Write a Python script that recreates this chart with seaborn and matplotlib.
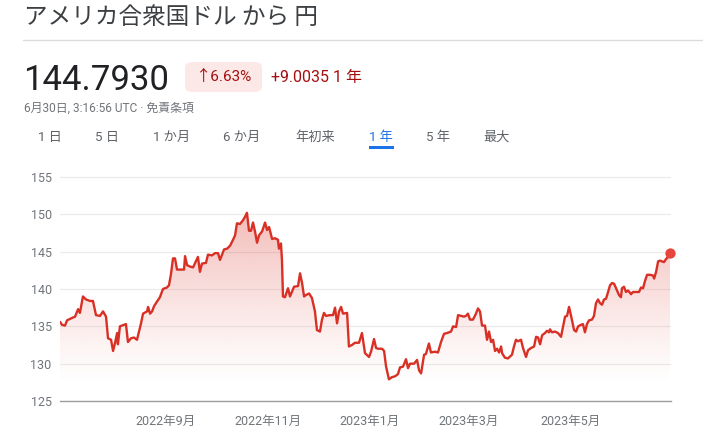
import numpy as np
import pandas as pd
import matplotlib
matplotlib.use("Agg")
import matplotlib.pyplot as plt
import matplotlib.dates as mdates
from matplotlib.colors import to_rgb
from matplotlib.patches import FancyBboxPatch, Rectangle
import seaborn as sns

# ---------------- data ----------------
start_date = "2022-06-30"
end_date = "2023-06-30"

days_since_start = [
    0, 1.2, 3.0, 4.2, 6.0, 9.0, 10.8, 11.9, 13.7, 15.5, 17.9, 19.7, 21.5, 23.9,
    25.7, 27.5, 28.7, 30.5, 31.7, 32.9, 34.1, 34.6, 35.8, 38.2, 39.4, 40.6, 42.4,
    44.2, 46.0, 48.4, 49.6, 52.0, 52.6, 53.8, 55.0, 56.2, 57.9, 59.7, 61.5, 63.9,
    65.1, 66.3, 67.5, 68.7, 69.9, 72.3, 74.1, 74.7, 75.9, 77.7, 79.5, 82.4, 83.6,
    84.8, 87.2, 88.4, 90.8, 92.6, 94.4, 95.6, 98.0, 99.8, 101.6, 103.4,
    104.6, 105.7, 107.5, 109.3, 111.1, 111.7, 112.9, 114.1, 115.3, 116.5, 117.7,
    118.9, 120.7, 122.5, 123.7, 124.9, 126.7, 128.4, 130.2, 130.8, 132.0, 132.6,
    133.2, 134.4, 136.2, 137.4, 139.8, 142.2, 143.4, 144.6, 145.8, 147.0, 148.8,
    150.5, 152.3, 153.5, 155.3, 156.5, 157.7, 158.9, 161.3, 163.1, 164.3, 165.5,
    166.7, 167.9, 169.1, 171.5, 172.6, 174.4, 176.2, 178.6, 180.4, 182.2, 184.6,
    185.8, 187.6, 188.8, 190.0, 192.4, 193.6, 194.8, 196.5, 198.3, 200.1, 201.9,
    203.1, 204.9, 206.7, 207.9, 209.1, 211.5, 213.3, 214.5, 215.7, 217.5, 218.6,
    220.4, 221.6, 224.0, 225.8, 227.6, 229.4, 231.2, 233.6, 234.8, 236.6, 237.8,
    239.6, 241.4, 242.5, 243.7, 244.9, 246.7, 248.5, 249.7, 250.9, 252.1, 253.9,
    255.1, 256.3, 257.5, 258.7, 259.9, 261.1, 262.3, 263.5, 264.1, 265.8, 267.6,
    270.0, 271.2, 272.4, 273.6, 275.4, 276.6, 278.4, 279.6, 281.4, 283.2, 284.4,
    285.6, 286.8, 288.0, 289.7, 290.9, 292.1, 292.7, 293.9, 295.7, 297.5, 299.3,
    301.7, 302.9, 304.1, 305.3, 307.1, 308.3, 309.5, 311.2, 312.4, 313.6, 314.8,
    316.0, 317.8, 319.0, 320.2, 321.4, 322.6, 323.8, 325.0, 326.2, 327.4, 328.6,
    329.8, 331.0, 332.2, 333.9, 335.1, 335.7, 336.9, 338.1, 339.3, 340.5, 341.1,
    342.3, 344.1, 345.9, 347.1, 348.3, 349.5, 350.7, 352.5, 354.3, 354.9, 356.1,
    357.3, 358.4, 359.6, 360.8, 362.0, 363.2, 364.4,
]

rates = [
    135.6, 135.2, 135.1, 135.8, 136.0, 136.3, 137.3, 136.8, 139.0, 138.6, 138.4,
    138.4, 136.5, 136.4, 137.0, 136.3, 133.4, 133.2, 131.7, 132.8, 134.1, 132.6,
    135.0, 135.2, 135.3, 132.9, 133.4, 133.5, 133.2, 135.4, 136.7, 137.0, 137.6,
    136.7, 137.0, 137.7, 138.3, 138.9, 140.0, 140.2, 140.5, 142.0, 144.1, 144.1,
    142.6, 142.6, 142.6, 144.4, 143.2, 143.0, 142.9, 144.3, 142.3, 143.4, 143.5,
    144.6, 144.5, 144.8, 144.8, 143.9, 145.3, 145.4, 145.8, 146.6,
    147.2, 148.8, 148.7, 149.2, 149.9, 150.2, 147.8, 147.8, 148.9, 147.7, 146.2,
    147.2, 147.7, 148.9, 147.9, 148.3, 146.7, 146.8, 146.6, 145.4, 146.1, 143.9,
    139.0, 138.9, 140.1, 139.0, 140.3, 140.4, 142.1, 140.8, 139.0, 139.2, 139.4,
    138.8, 137.0, 134.5, 134.3, 135.9, 136.8, 136.4, 136.5, 136.5, 137.5, 135.4,
    137.0, 137.6, 136.7, 136.8, 132.3, 132.5, 132.8, 132.8, 134.1, 131.4, 130.9,
    131.6, 133.3, 132.1, 132.0, 132.0, 131.7, 129.6, 127.9, 128.2, 128.3, 128.6,
    129.5, 129.6, 130.6, 129.4, 130.0, 130.0, 130.5, 129.1, 128.7, 131.2, 131.3,
    132.7, 131.5, 131.6, 131.5, 132.9, 134.0, 134.1, 134.3, 135.0, 134.9, 136.5,
    136.4, 136.3, 136.4, 136.7, 135.9, 135.9, 136.7, 137.4, 137.0, 135.1, 135.1,
    133.2, 134.3, 132.9, 133.2, 131.7, 132.0, 131.5, 132.3, 131.4, 130.8, 130.7,
    131.2, 132.3, 133.2, 133.0, 133.2, 132.1, 130.9, 131.8, 132.1, 132.3, 133.6,
    133.5, 132.6, 133.8, 134.1, 134.4, 134.2, 134.6, 134.2, 134.3, 134.1, 133.6,
    136.3, 136.4, 137.6, 136.4, 134.5, 134.3, 135.0, 135.2, 135.3, 134.2, 135.3,
    135.8, 135.9, 136.4, 138.1, 138.6, 138.1, 137.9, 138.6, 138.7, 139.6, 140.5,
    140.8, 140.7, 140.1, 139.2, 138.9, 140.1, 140.3, 139.6, 139.8, 139.5, 139.3,
    139.6, 139.6, 139.6, 140.2, 140.1, 141.1, 141.9, 141.9, 141.8, 141.4, 142.3,
    143.7, 143.8, 143.7, 143.6, 144.0, 144.3, 144.793,
]

x_tick_dates = ["2022-09-01", "2022-11-01", "2023-01-01", "2023-03-01", "2023-05-01"]
x_tick_labels = ["2022年9月", "2022年11月", "2023年1月", "2023年3月", "2023年5月"]
y_ticks = [125, 130, 135, 140, 145, 150, 155]

title_text = "アメリカ合衆国ドル から 円"
price_text = "144.7930"
change_pct_text = "↑6.63%"
change_abs_text = "+9.0035 1 年"
timestamp_text = "6月30日, 3:16:56 UTC · 免責条項"
tab_labels = ["1 日", "5 日", "1 か月", "6 か月", "年初来", "1 年", "5 年", "最大"]
active_tab = "1 年"

# ---------------- style ----------------
sns.set_style("white")
FAM = ["Roboto", "Noto Sans CJK JP", "DejaVu Sans"]
plt.rcParams["font.family"] = FAM

W, H = 703, 440
fig = plt.figure(figsize=(W / 100, H / 100), dpi=100)
fig.patch.set_facecolor("white")


def fx(px):
    return px / W


def fy(py):
    return 1 - py / H


RED = "#d93025"
DARK_RED = "#a50e0e"
GREY = "#70757a"

# header
fig.text(fx(24), fy(17), title_text, fontsize=17, color="#3c4043",
         va="center", ha="left", family=["Noto Sans CJK JP", "DejaVu Sans"])
fig.add_artist(plt.Line2D([fx(23), fx(703)], [fy(40.5), fy(40.5)],
                          color="#dadce0", lw=1))
fig.text(fx(23), fy(90), price_text, fontsize=25, color="#202124",
         va="baseline", ha="left", family=FAM)
pill = FancyBboxPatch((fx(185), fy(92)), fx(262) - fx(185), fy(62) - fy(92),
                      boxstyle="round,pad=0,rounding_size=0.012",
                      transform=fig.transFigure, facecolor="#fce8e6",
                      edgecolor="none")
fig.add_artist(pill)
fig.text(fx(224), fy(77), change_pct_text, fontsize=11, color=DARK_RED,
         va="center", ha="center", family=FAM)
fig.text(fx(271), fy(77), change_abs_text, fontsize=11.5, color=DARK_RED,
         va="center", ha="left", family=FAM)
fig.text(fx(24), fy(108), timestamp_text, fontsize=8.6, color=GREY,
         va="center", ha="left", family=FAM)

tab_x = [38, 95, 153, 223, 295, 369, 426, 483]
for lbl, x in zip(tab_labels, tab_x):
    c = "#1a73e8" if lbl == active_tab else "#5f6368"
    fig.text(fx(x), fy(137), lbl, fontsize=9.5, color=c, va="center",
             ha="left", family=FAM)
fig.add_artist(Rectangle((fx(369), fy(149)), fx(394) - fx(369), fy(146) - fy(149),
                         transform=fig.transFigure, facecolor="#1a73e8",
                         edgecolor="none"))

# ---------------- chart ----------------
ax_top, ax_bottom, ax_left, ax_right = 170, 401, 60, 671
ax = fig.add_axes([fx(ax_left), fy(ax_bottom), fx(ax_right) - fx(ax_left),
                   (ax_bottom - ax_top) / H])

dates = pd.to_datetime(start_date) + pd.to_timedelta(days_since_start, unit="D")
df = pd.DataFrame({"date": dates, "rate": rates})

ymin = 125
ymax = 155 + (177 - ax_top) / ((401 - 177) / 30)
x0 = mdates.date2num(pd.to_datetime(start_date))
x1 = mdates.date2num(pd.to_datetime(end_date))

# gradient fill under the line
fill = ax.fill_between(df["date"], df["rate"], ymin, color="none", lw=0)
n = 300
vals = np.linspace(ymin, max(rates), n)
alpha = 0.32 * np.clip((vals - 127.0) / (max(rates) - 127.0), 0, 1) ** 1.2
rgba = np.zeros((n, 1, 4))
rgba[..., :3] = to_rgb(RED)
rgba[:, 0, 3] = alpha
im = ax.imshow(rgba, extent=[x0, x1, ymin, max(rates)], origin="lower",
               aspect="auto", zorder=1, interpolation="bilinear")
im.set_clip_path(fill.get_paths()[0], transform=ax.transData)

sns.lineplot(data=df, x="date", y="rate", color=RED, linewidth=1.7,
             estimator=None, ax=ax, zorder=3)
ax.scatter([df["date"].iloc[-1]], [df["rate"].iloc[-1]], s=55, color="#e8453c",
           zorder=5, clip_on=False, linewidths=0)

ax.set_xlim(x0, x1)
ax.set_ylim(ymin, ymax)
ax.set_xlabel("")
ax.set_ylabel("")

ax.set_yticks(y_ticks)
ax.set_yticklabels([str(v) for v in y_ticks])
ax.set_xticks([mdates.date2num(pd.to_datetime(d)) for d in x_tick_dates])
ax.set_xticklabels(x_tick_labels)

ax.yaxis.grid(True, color="#ebebeb", lw=0.8, zorder=0)
ax.xaxis.grid(False)
ax.set_axisbelow(True)
for s in ["top", "right", "left"]:
    ax.spines[s].set_visible(False)
ax.spines["bottom"].set_color("#9e9e9e")
ax.spines["bottom"].set_linewidth(1.0)

ax.tick_params(axis="y", length=0, pad=6, labelsize=9, labelcolor=GREY)
ax.tick_params(axis="x", direction="out", length=3.2, width=1.3, color="#6f6f6f",
               pad=6.5, labelsize=9, labelcolor=GREY)
for t in ax.get_xticklabels() + ax.get_yticklabels():
    t.set_family(FAM)

fig.savefig("out.png", dpi=100, facecolor="white")
